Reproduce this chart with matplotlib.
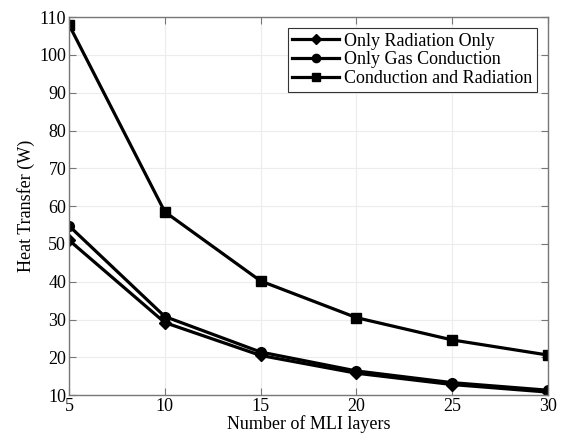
import matplotlib
matplotlib.use("Agg")
import matplotlib.pyplot as plt

# Data
layers = [5, 10, 15, 20, 25, 30]
radiation_only = [51.0, 29.2, 20.5, 15.8, 12.8, 10.8]
gas_conduction = [54.8, 30.8, 21.4, 16.4, 13.3, 11.3]
cond_and_rad = [108.0, 58.5, 40.2, 30.5, 24.6, 20.6]

plt.rcParams.update({
    'font.family': 'Liberation Serif',
    'font.size': 13,
})

fig = plt.figure(figsize=(5.61, 4.41), dpi=100)
ax = fig.add_axes([0.123, 0.104, 0.854, 0.857])

ax.plot(layers, radiation_only, color='black', lw=2.3, marker='D', ms=6,
        label='Only Radiation Only')
ax.plot(layers, gas_conduction, color='black', lw=2.3, marker='o', ms=7,
        label='Only Gas Conduction')
ax.plot(layers, cond_and_rad, color='black', lw=2.3, marker='s', ms=7,
        label='Conduction and Radiation')

ax.set_xlim(5, 30)
ax.set_ylim(10, 110)
ax.set_xticks(range(5, 31, 5))
ax.set_yticks(range(10, 111, 10))
ax.tick_params(direction='in', length=5, color='#777777', top=True, right=True,
               labelsize=13, pad=2)
for s in ax.spines.values():
    s.set_color('#777777')
    s.set_linewidth(1)
ax.grid(True, color='#ececec', linewidth=0.8)
ax.set_axisbelow(True)

ax.set_xlabel('Number of MLI layers', fontsize=13, labelpad=0)
ax.set_ylabel('Heat Transfer (W)', fontsize=13, labelpad=3)

leg = ax.legend(loc='upper right', fancybox=False, edgecolor='#333333',
                fontsize=13, handlelength=2.6, borderpad=0.25, labelspacing=0.1,
                handletextpad=0.3, borderaxespad=0.6, framealpha=1,
                markerscale=0.85)
leg.get_frame().set_linewidth(0.8)

fig.savefig('out.png', dpi=100)
